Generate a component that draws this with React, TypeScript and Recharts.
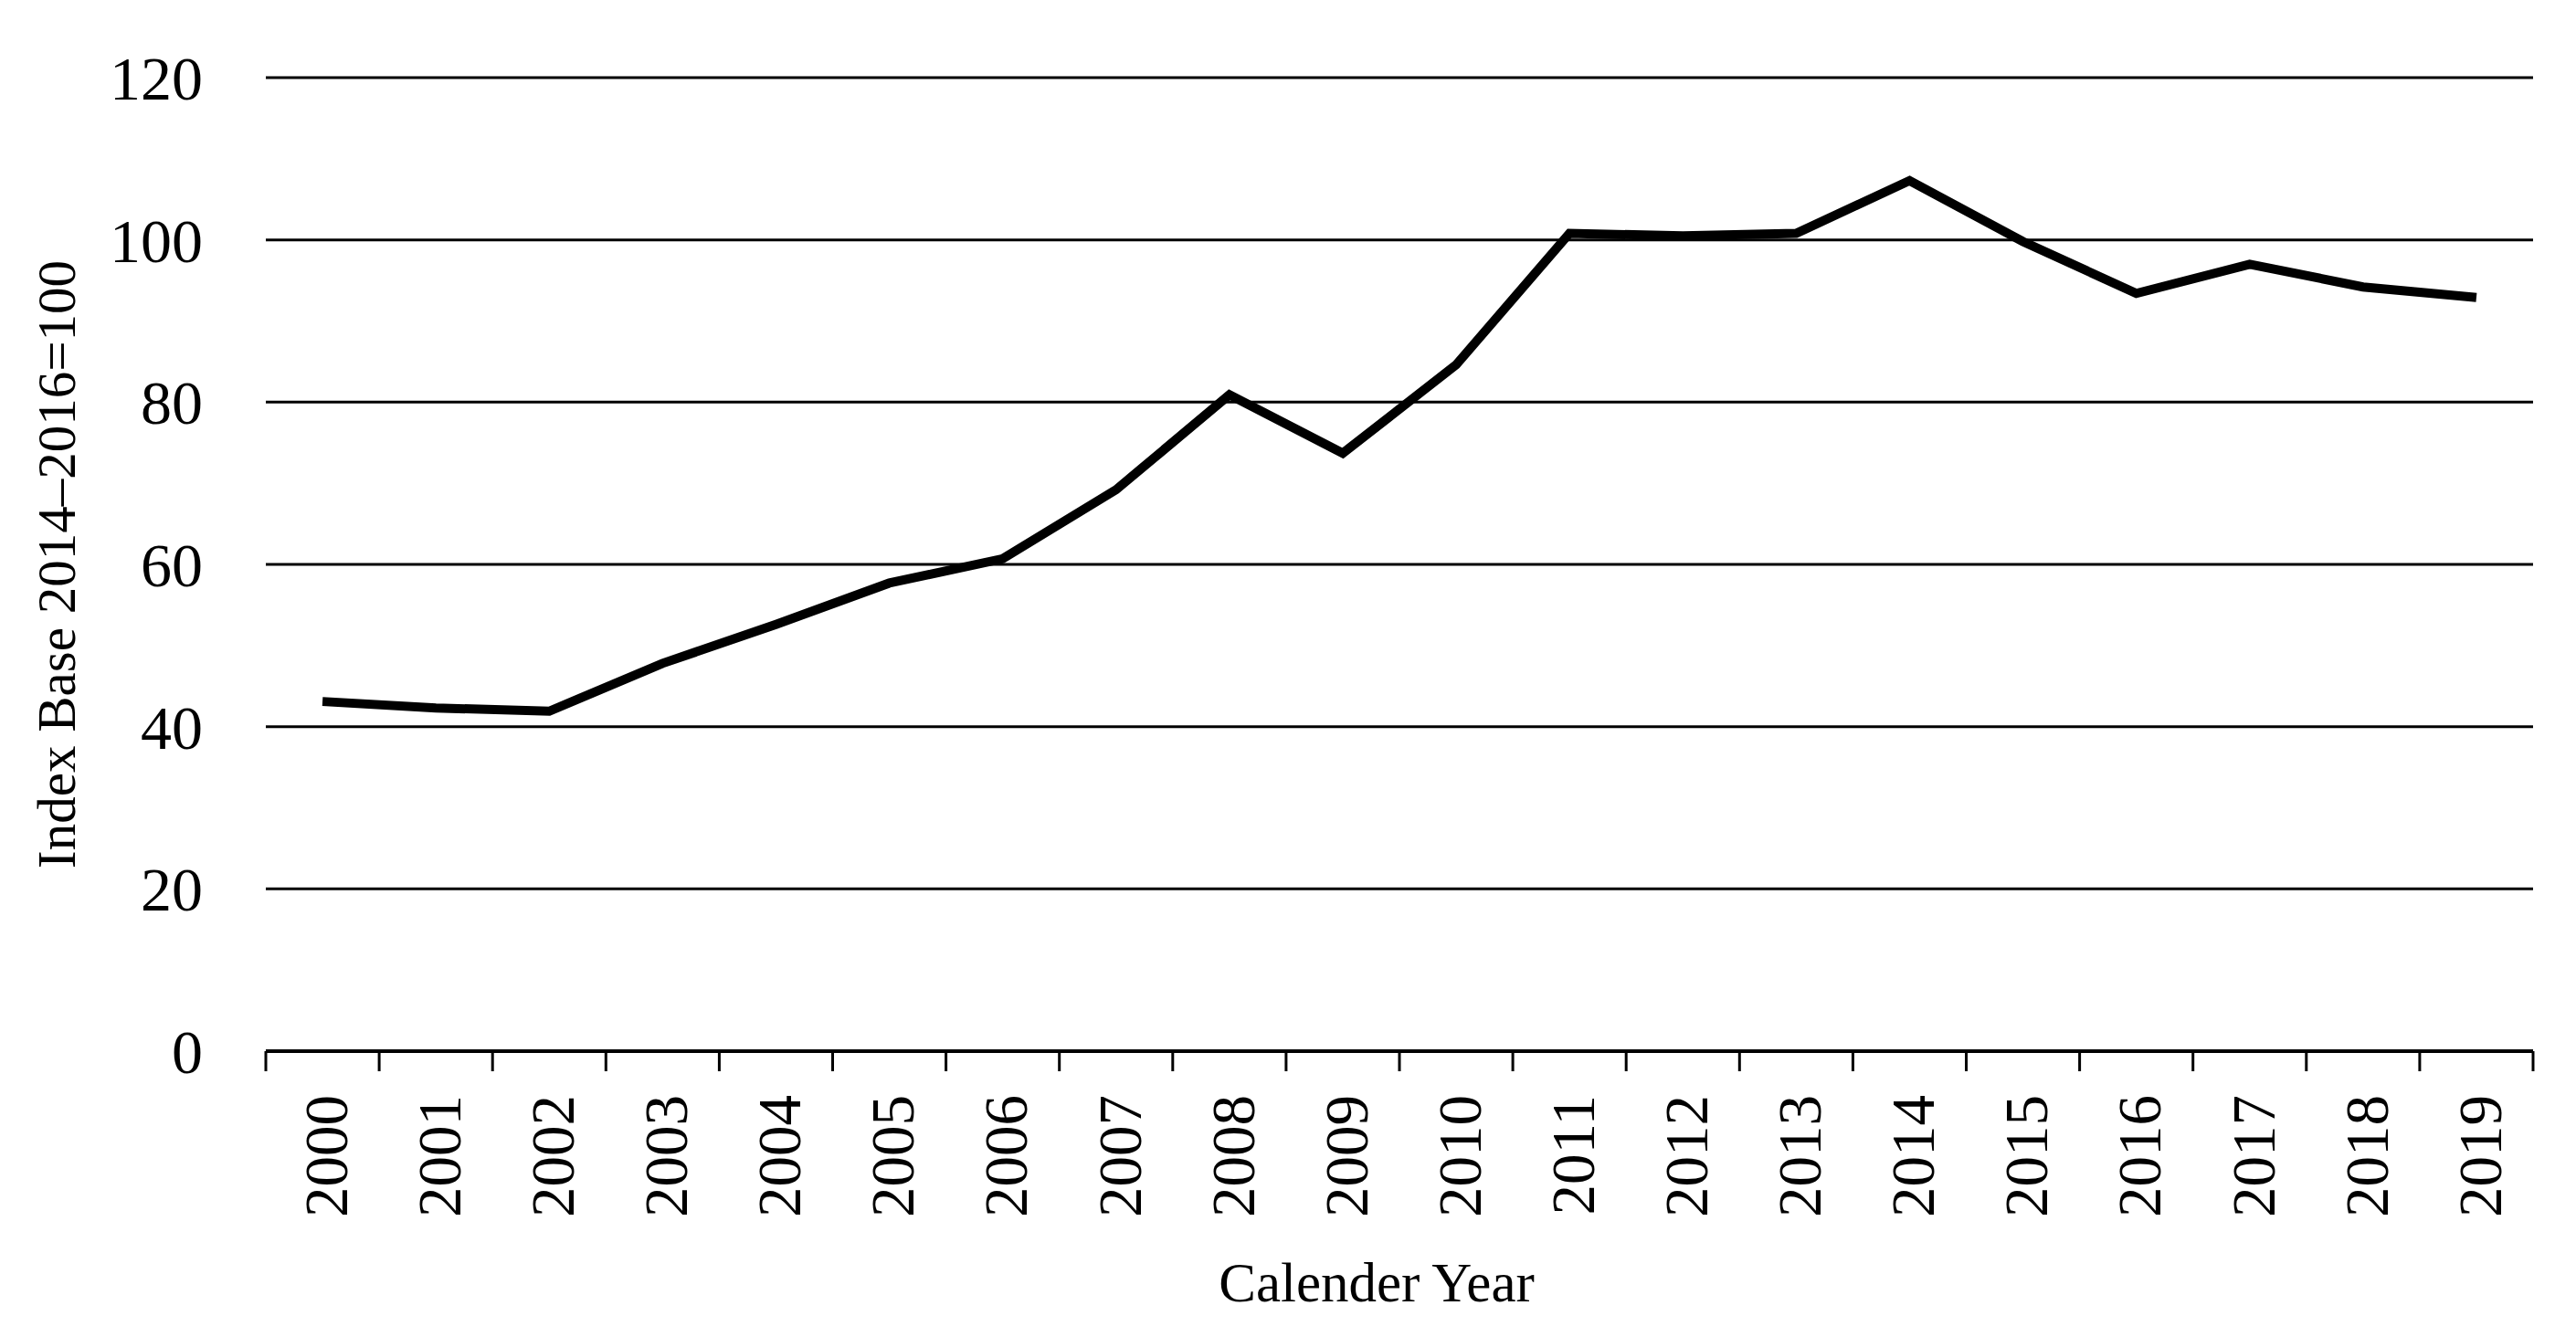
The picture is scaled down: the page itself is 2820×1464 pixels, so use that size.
import { LineChart, Line, XAxis, YAxis, CartesianGrid } from 'recharts'

const years = [
  '2000', '2001', '2002', '2003', '2004', '2005', '2006', '2007', '2008', '2009',
  '2010', '2011', '2012', '2013', '2014', '2015', '2016', '2017', '2018', '2019',
]
const indexValues = [
  43.1, 42.3, 41.9, 47.8, 52.6, 57.7, 60.7, 69.2, 80.9, 73.7,
  84.6, 100.8, 100.5, 100.8, 107.3, 99.8, 93.4, 97.0, 94.2, 92.9,
]
const yTicks = [0, 20, 40, 60, 80, 100, 120]

const data = years.map((year, i) => ({ year, value: indexValues[i] }))

const W = 2820
const H = 1464
const PLOT_LEFT = 291
const PLOT_RIGHT = 2773
const PLOT_TOP = 85
const PLOT_BOTTOM = 1151
const BAND = (PLOT_RIGHT - PLOT_LEFT) / years.length
const FONT = '"Liberation Serif", "Times New Roman", serif'

function YearTick(props: any) {
  const { x, y, payload, index } = props
  const left = x - BAND / 2
  const isLast = index === years.length - 1
  return (
    <g>
      <line x1={left} y1={y} x2={left} y2={y + 22} stroke="#000" strokeWidth={3} />
      {isLast && <line x1={left + BAND} y1={y} x2={left + BAND} y2={y + 22} stroke="#000" strokeWidth={3} />}
      <text
        x={x}
        y={y + 48}
        transform={`rotate(-90 ${x} ${y + 48})`}
        textAnchor="end"
        dy="0.4em"
        fontFamily={FONT}
        fontSize={67}
        fill="#000"
      >
        {payload.value}
      </text>
    </g>
  )
}

function XTitle() {
  return (
    <text x={1507} y={1425} textAnchor="middle" fontFamily={FONT} fontSize={61} fill="#000">
      Calender Year
    </text>
  )
}

function YTitle(props: any) {
  const { viewBox } = props
  const cy = viewBox.y + viewBox.height / 2
  return (
    <text
      x={62}
      y={cy}
      transform={`rotate(-90 62 ${cy})`}
      textAnchor="middle"
      dominantBaseline="central"
      fontFamily={FONT}
      fontSize={59}
      fill="#000"
    >
      Index Base 2014–2016=100
    </text>
  )
}

export default function App() {
  return (
    <div style={{ position: 'absolute', left: 0, top: 0, width: W, height: H, background: '#fff' }}>
      <LineChart
        width={W}
        height={H}
        data={data}
        margin={{ top: PLOT_TOP, right: W - PLOT_RIGHT, bottom: 0, left: 0 }}
      >
        <CartesianGrid vertical={false} stroke="#000" strokeWidth={3} />
        <XAxis
          dataKey="year"
          scale="band"
          height={H - PLOT_BOTTOM}
          axisLine={{ stroke: '#000', strokeWidth: 4 }}
          tickLine={false}
          tickSize={0}
          tickMargin={0}
          interval={0}
          tick={<YearTick />}
          label={<XTitle />}
        />
        <YAxis
          width={PLOT_LEFT}
          domain={[0, 120]}
          ticks={yTicks}
          axisLine={false}
          tickLine={false}
          tickSize={0}
          tickMargin={69}
          tick={{ fontFamily: FONT, fontSize: 68, fill: '#000' }}
          label={<YTitle />}
        />
        <Line
          type="linear"
          dataKey="value"
          stroke="#000"
          strokeWidth={10}
          dot={false}
          isAnimationActive={false}
        />
      </LineChart>
    </div>
  )
}
